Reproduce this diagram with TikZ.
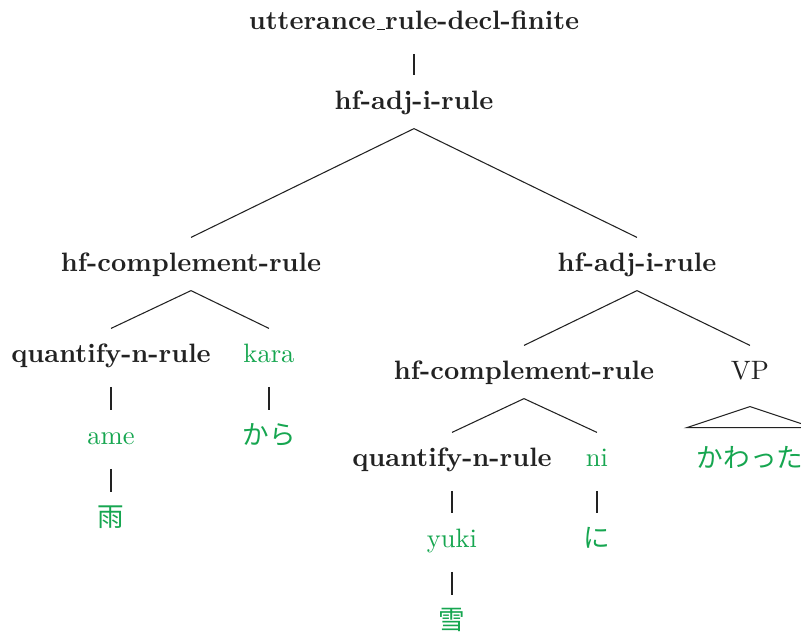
\documentclass[tikz,border=0pt]{standalone}
\usepackage{fontspec}
\newfontfamily\jp{Noto Sans CJK JP}
\definecolor{ink}{RGB}{34,34,34}
\definecolor{grn}{RGB}{22,166,80}
\newcommand\shortus{\leavevmode\kern.06em\vbox{\hrule width.3em}}
\tikzset{
  lbl/.style={inner xsep=0pt, inner ysep=4.8pt, text height=8pt, text depth=4pt, anchor=base, font=\bfseries, text=ink},
  lex/.style={lbl, font=\normalfont, text=grn},
  plain/.style={lbl, font=\normalfont},
  edge/.style={draw=ink, line width=0.4pt}
}
\begin{document}
\begin{tikzpicture}[x=0.376pt, y=-0.376pt]
\useasboundingbox (0,0) rectangle (801,635);
\clip (0,0) rectangle (801,635);
% nodes (positioned by baseline)
\node[lbl] (top) at (414,30) {utterance\shortus rule-decl-finite};
\node[lbl] (adj1) at (414,110) {hf-adj-i-rule};
\node[lbl] (compL) at (191,272) {hf-complement-rule};
\node[lbl] (adj2) at (637,272) {hf-adj-i-rule};
\node[lbl] (qL) at (111,363) {quantify-n-rule};
\node[lex] (kara) at (269,363) {kara};
\node[lex] (ame) at (111,445) {ame};
\node[lex] (kara2) at (269,445) {\jp から};
\node[lex] (ame2) at (111,527) {\jp 雨};
\node[lbl] (compR) at (524,380) {hf-complement-rule};
\node[plain] (vp) at (750,380) {VP};
\node[lbl] (qR) at (452,467) {quantify-n-rule};
\node[lex] (ni) at (597,467) {ni};
\node[lex] (yuki) at (452,548) {yuki};
\node[lex] (ni2) at (597,548) {\jp に};
\node[lex] (yuki2) at (452,630) {\jp 雪};
\node[lex] (kw) at (750,468) {\jp かわった};
% unary edges
\draw[edge] (top.south) -- (adj1.north);
\draw[edge] (qL.south) -- (ame.north);
\draw[edge] (ame.south) -- (ame2.north);
\draw[edge] (kara.south) -- (kara2.north);
\draw[edge] (qR.south) -- (yuki.north);
\draw[edge] (yuki.south) -- (yuki2.north);
\draw[edge] (ni.south) -- (ni2.north);
% branching edges
\draw[edge] (compL.north) -- ([yshift=2pt]adj1.south) -- (adj2.north);
\draw[edge] (qL.north) -- ([yshift=2pt]compL.south) -- (kara.north);
\draw[edge] (compR.north) -- ([yshift=2pt]adj2.south) -- (vp.north);
\draw[edge] (qR.north) -- ([yshift=2pt]compR.south) -- (ni.north);
% roof
\coordinate (vpA) at ([yshift=-1pt]vp.south);
\draw[edge] (vpA) -- ++(-63,21) -- ++(126,0) -- cycle;
\end{tikzpicture}
\end{document}
